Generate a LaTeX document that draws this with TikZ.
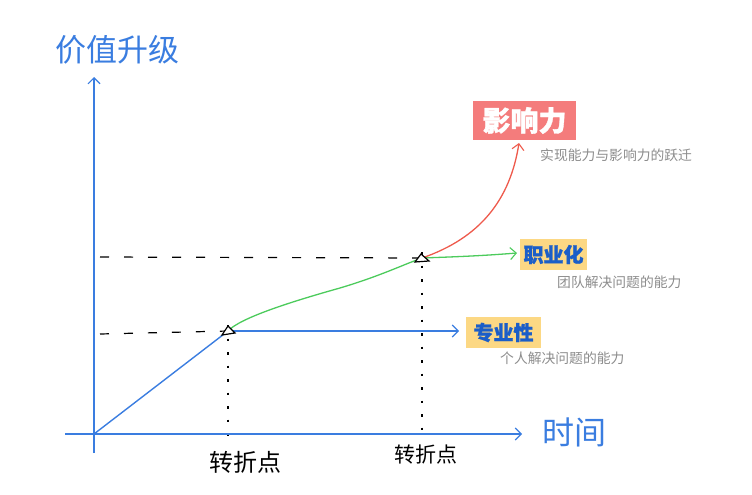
\documentclass[tikz,border=0pt]{standalone}
\usepackage{fontspec}
\newfontfamily\cjk{Noto Sans CJK SC}
\newfontfamily\cjkheavy[BoldFeatures={FakeBold=1.2}]{Noto Sans CJK SC}
\usetikzlibrary{arrows.meta}
\definecolor{axisblue}{HTML}{3A7DE0}
\definecolor{linegreen}{HTML}{4CCB5C}
\definecolor{linered}{HTML}{EE5A4C}
\definecolor{salmon}{HTML}{F47C7C}
\definecolor{paleyellow}{HTML}{FCD884}
\definecolor{darkblue}{HTML}{1B5EC8}
\definecolor{subgray}{HTML}{8C8C8C}
\tikzset{
  chev/.style={-{Straight Barb[length=6pt,width=12pt,line width=1.1pt]}},
  axisline/.style={draw=axisblue,line width=1.4pt},
  hdash/.style={draw=black,line width=1.2pt,dash pattern=on 9pt off 15pt},
  vdot/.style={draw=black,line width=1.4pt,dash pattern=on 2.5pt off 11pt},
  tri/.style={draw=black,line width=1.2pt,fill=white},
  tagbox/.style={fill=paleyellow,text=darkblue,font=\cjkheavy\bfseries\fontsize{20}{20}\selectfont,inner xsep=4pt,inner ysep=5pt},
  sub/.style={text=subgray,font=\cjk\fontsize{13.8}{14}\selectfont,anchor=west,inner sep=0pt},
  hand/.style={font=\cjk\fontsize{28}{28}\selectfont,inner sep=0pt},
}
\begin{document}
\begin{tikzpicture}[x=1pt,y=-1pt]
\useasboundingbox (0,0) rectangle (752,495);
% coordinates
\coordinate (O) at (94,434);
\coordinate (ytop) at (94,77);
\coordinate (ybot) at (94,453);
\coordinate (xl) at (65,434);
\coordinate (xr) at (522,434);
\coordinate (P1) at (228,331);
\coordinate (P2) at (422,258);
\coordinate (bend) at (459,331);
\coordinate (gend) at (517,253);
\coordinate (rend) at (519,143);
\coordinate (d1l) at (100,334);
\coordinate (d2l) at (100,257);
\coordinate (P1b) at (228,434);
\coordinate (P2b) at (422,434);
% dashed guides
\draw[hdash] (d1l) -- (P1);
\draw[hdash] (d2l) -- (P2);
\draw[vdot] ([yshift=6pt]P1) -- ([yshift=-2pt]P1b);
\draw[vdot] ([yshift=6pt]P2) -- ([yshift=-2pt]P2b);
% axes
\draw[axisline,chev] (ybot) -- (ytop);
\draw[axisline,chev] (xl) -- (xr);
% curves
\draw[axisblue,line width=1.4pt] (O) -- (P1);
\draw[axisblue,line width=1.4pt,chev] (P1) -- (bend);
\draw[linegreen,line width=1.3pt] (P1) .. controls (240,318) and (290,302) .. (340,288)
   .. controls (380,276) and (400,266) .. (P2);
\draw[linegreen,line width=1.3pt,chev] (P2) .. controls (450,257) and (480,256) .. (gend);
\draw[linered,line width=1.3pt,chev] (P2) .. controls (480,238) and (510,200) .. (rend);
% turning point triangles
\draw[tri] (222,335) -- (228,326) -- (235,333) -- cycle;
\draw[tri] (415,262) -- (421,254) -- (429,261) -- cycle;
% labels
\node[fill=salmon,text=white,font=\cjkheavy\bfseries\fontsize{28}{28}\selectfont,minimum width=103pt,minimum height=39pt,inner sep=0pt] (yx) at (524.5,120.5) {影响力};
\node[sub] (yxs) at (540,155) {实现能力与影响力的跃迁};
\node[tagbox,minimum width=67pt,minimum height=31pt,inner sep=0pt] (zyh) at (553.5,254.5) {职业化};
\node[sub] (zyhs) at (557,282) {团队解决问题的能力};
\node[tagbox,minimum width=75pt,minimum height=31pt,inner sep=0pt] (zyx) at (503.5,332.5) {专业性};
\node[sub] (zyxs) at (500,358) {个人解决问题的能力};
% handwritten labels
\node[hand,text=axisblue,font=\cjk\fontsize{31}{31}\selectfont] (yl) at (117,50) {价值升级};
\node[hand,text=axisblue,font=\cjk\fontsize{32}{32}\selectfont] (xlab) at (574,432) {时间};
\node[hand,font=\cjk\fontsize{24}{24}\selectfont] (t1) at (245,462) {转折点};
\node[hand,font=\cjk\fontsize{21}{21}\selectfont] (t2) at (426,455) {转折点};
\end{tikzpicture}
\end{document}
